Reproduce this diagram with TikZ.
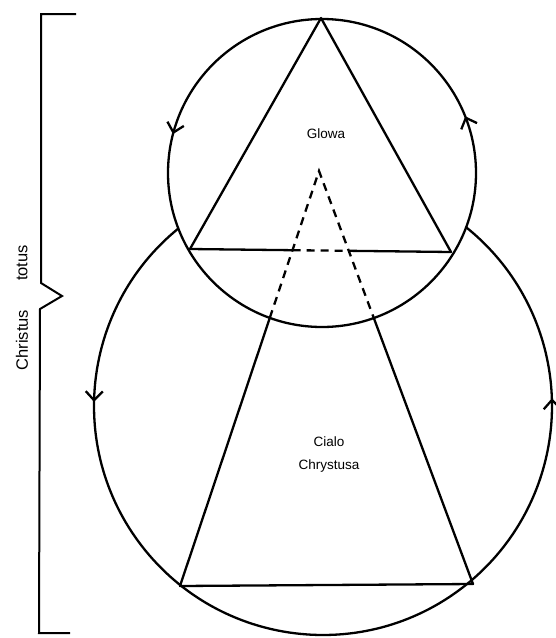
\documentclass[tikz,border=0pt]{standalone}
\usepackage{fontspec}
\setmainfont{Liberation Sans}
\usetikzlibrary{arrows.meta,decorations.markings}
\begin{document}
\begin{tikzpicture}[x=1pt,y=-1pt,
  solidline/.style={line width=2.3pt, line join=round, line cap=round},
  dashline/.style={line width=2.3pt, dash pattern=on 8pt off 6pt},
  braceline/.style={line width=2pt, line join=miter},
  lbl/.style={font=\fontsize{13.5}{15}\selectfont, inner sep=0pt},
  bracetext/.style={font=\fontsize{16.5}{18}\selectfont, rotate=90, inner sep=0pt},
  barb/.tip={Straight Barb[length=9pt,width=17pt]}
]
\useasboundingbox (0,0) rectangle (555,638);
% centres
\coordinate (C1) at (322,173);
\coordinate (C2) at (323,406);
% small triangle
\coordinate (A) at (321,18);
\coordinate (B) at (190,249);
\coordinate (C) at (451,252);
\coordinate (L1) at (292.6,250.2);
\coordinate (R1) at (348.8,250.8);
% big triangle
\coordinate (T) at (319,171);
\coordinate (D) at (180,586);
\coordinate (E) at (473,584);
\coordinate (P) at (269.8,317.9);
\coordinate (Q) at (373.8,318);
% small circle
\draw[solidline, postaction={decorate}, decoration={markings,
  mark=at position 0.310 with {\arrow{barb}},
  mark=at position 0.7094 with {\arrow{barb}}}]
  ([shift={(90:154)}]C1) arc[start angle=90, end angle=-270, radius=154];
% big circle (outer arc)
\draw[solidline, postaction={decorate}, decoration={markings,
  mark=at position 0.1765 with {\arrow{barb}},
  mark=at position 0.825 with {\arrow{barb}}}]
  ([shift={(230.8:229)}]C2) arc[start angle=230.8, end angle=-51.3, radius=229];
% small triangle
\draw[solidline] (B) -- (A) -- (C);
\draw[solidline] (B) -- (L1);
\draw[dashline] (L1) -- (R1);
\draw[solidline] (R1) -- (C);
% big triangle
\draw[dashline] (P) -- (T) -- (Q);
\draw[solidline] (P) -- (D) -- (E) -- (Q);
% brace
\coordinate (b1) at (76,14);
\coordinate (b2) at (41,14);
\coordinate (b3) at (41,283);
\coordinate (b4) at (62,296);
\coordinate (b5) at (40,309);
\coordinate (b6) at (39,633);
\coordinate (b7) at (70,633);
\draw[braceline] (b1) -- (b2) -- (b3) -- (b4) -- (b5) -- (b6) -- (b7);
\node[bracetext] (totus) at (22,263) {totus};
\node[bracetext] (christus) at (22,340) {Christus};
% labels
\node[lbl] (glowa) at (326,134) {Glowa};
\node[lbl] (cialo) at (329,442) {Cialo};
\node[lbl] (chrystusa) at (329,466) {Chrystusa};
\end{tikzpicture}
\end{document}
